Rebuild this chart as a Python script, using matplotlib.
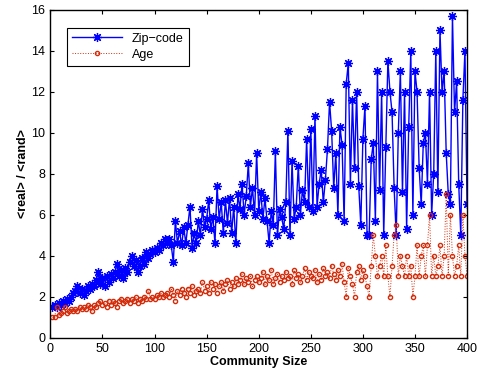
import matplotlib
matplotlib.use("Agg")
import matplotlib.pyplot as plt

plt.rcParams["font.family"] = ["Liberation Sans", "DejaVu Sans"]

# community sizes (every second size, 2..400)
sizes = list(range(2, 401, 2))

zip_code = [
    1.5, 1.6, 1.5, 1.7, 1.6, 1.8, 1.7, 1.9, 1.8, 2.0,
    2.2, 2.3, 2.5, 2.2, 2.4, 2.1, 2.3, 2.5, 2.4, 2.6,
    2.5, 2.8, 3.2, 2.6, 2.9, 2.5, 3.0, 2.7, 3.1, 2.9,
    3.2, 3.6, 3.0, 3.3, 2.9, 3.4, 3.2, 3.7, 4.0, 3.5,
    3.8, 3.2, 3.5, 3.9, 3.6, 4.2, 3.9, 4.1, 4.3, 4.2,
    4.4, 4.3, 4.6, 4.5, 4.8, 4.6, 4.8, 4.5, 3.7, 5.7,
    4.6, 5.2, 4.5, 5.4, 4.6, 5.5, 6.4, 4.4, 5.1, 4.6,
    5.7, 5.0, 6.3, 5.4, 5.8, 6.7, 5.3, 5.9, 4.6, 7.4,
    5.8, 6.6, 5.1, 6.7, 5.6, 6.8, 5.1, 6.4, 4.6, 7.0,
    6.3, 7.5, 6.0, 6.9, 8.5, 6.4, 7.3, 6.0, 9.0, 6.2,
    7.1, 5.8, 6.8, 5.7, 4.6, 6.2, 5.5, 9.1, 5.0, 6.3,
    5.9, 5.3, 6.6, 10.1, 5.0, 8.6, 5.8, 6.4, 8.4, 6.0,
    7.2, 6.6, 9.7, 6.4, 10.2, 6.2, 10.8, 6.4, 7.5, 8.2,
    6.6, 7.7, 9.2, 11.5, 10.1, 7.3, 9.0, 6.0, 10.3, 9.4,
    5.7, 12.4, 13.4, 7.5, 11.6, 8.3, 12.0, 7.4, 5.5, 9.7,
    11.3, 5.0, 5.0, 8.7, 9.5, 5.7, 13.0, 7.2, 12.0, 5.0,
    9.3, 13.5, 12.0, 11.0, 7.3, 5.0, 10.0, 13.0, 7.1, 12.0,
    5.3, 10.3, 14.0, 6.0, 13.0, 12.0, 8.3, 6.5, 9.5, 10.0,
    7.5, 12.0, 6.0, 8.0, 14.0, 7.1, 15.0, 12.0, 13.0, 9.0,
    7.0, 6.5, 15.7, 11.0, 12.5, 7.5, 5.0, 11.6, 14.0, 6.5,
]

age = [
    1.0, 1.0, 1.5, 1.1, 1.2, 1.3, 1.5, 1.2, 1.3, 1.4,
    1.3, 1.4, 1.3, 1.5, 1.4, 1.5, 1.4, 1.6, 1.5, 1.3,
    1.6, 1.5, 1.7, 1.8, 1.6, 1.7, 1.5, 1.8, 1.6, 1.8,
    1.7, 1.5, 1.8, 1.9, 1.7, 1.8, 1.9, 1.7, 1.9, 1.8,
    2.0, 1.7, 1.9, 1.8, 2.0, 1.9, 2.3, 1.9, 2.0, 1.9,
    2.1, 2.0, 2.2, 2.0, 2.1, 2.2, 2.0, 2.4, 2.1, 1.8,
    2.3, 2.1, 2.4, 2.2, 2.0, 2.4, 2.2, 2.5, 2.1, 2.3,
    2.4, 2.2, 2.7, 2.3, 2.5, 2.2, 2.7, 2.4, 2.6, 2.2,
    2.5, 2.7, 2.3, 2.6, 2.8, 2.4, 2.7, 2.5, 2.9, 2.6,
    2.8, 3.1, 2.6, 2.9, 2.7, 3.0, 2.5, 2.8, 3.0, 2.7,
    2.9, 3.2, 2.6, 3.0, 2.8, 3.3, 2.6, 2.9, 3.1, 2.7,
    3.0, 2.8, 3.2, 2.9, 3.0, 2.6, 3.3, 2.9, 3.1, 2.7,
    3.0, 3.4, 2.8, 3.2, 3.0, 2.9, 3.3, 2.7, 3.1, 2.8,
    3.4, 3.0, 3.2, 2.9, 3.5, 3.1, 2.8, 3.3, 3.0, 3.6,
    2.7, 2.0, 3.4, 3.0, 2.6, 2.0, 3.2, 3.5, 2.8, 3.3,
    3.0, 2.5, 2.0, 3.5, 5.0, 4.0, 3.0, 3.5, 4.0, 3.0,
    4.5, 3.0, 2.0, 3.5, 5.0, 5.5, 3.0, 4.0, 3.5, 3.0,
    4.0, 3.0, 3.5, 2.0, 3.0, 4.5, 3.0, 4.0, 4.5, 3.0,
    4.5, 6.0, 3.0, 4.0, 3.0, 3.5, 4.5, 3.0, 4.0, 7.0,
    3.0, 6.0, 4.0, 3.0, 3.5, 4.5, 3.0, 6.0, 4.0, 3.0,
]

fig = plt.figure(figsize=(4.8, 3.74), dpi=100, facecolor="white")
ax = fig.add_axes([0.105, 0.097, 0.868, 0.877])

# MATLAB-like asterisk marker
ax.plot(sizes, zip_code, "-", marker=(8, 2, 0), color="#0000ff", lw=1.0,
        markersize=6.5, markeredgewidth=0.9, label="Zip\u2212code")
ax.plot(sizes, age, ":o", color="#d42c0a", lw=0.7, markersize=3,
        markerfacecolor="none", markeredgewidth=1.0, label="Age")

ax.set_xlim(0, 400)
ax.set_ylim(0, 16)
ax.set_xticks(range(0, 401, 50))
ax.set_yticks(range(0, 17, 2))
ax.tick_params(direction="in", top=True, right=True, labelsize=9, length=3)
for sp in ax.spines.values():
    sp.set_linewidth(1.0)

ax.set_xlabel("Community Size", fontsize=9, fontweight="bold", labelpad=1)
ax.set_ylabel("<real> / <rand>", fontsize=9, fontweight="bold", labelpad=2)

leg = ax.legend(loc="upper left", bbox_to_anchor=(0.04, 0.945), fontsize=9,
                handlelength=4, borderaxespad=0, fancybox=False,
                framealpha=1, edgecolor="black", labelspacing=0.3,
                borderpad=0.4)
leg.get_frame().set_linewidth(0.8)

fig.savefig("out.png", dpi=100)
plt.close(fig)
